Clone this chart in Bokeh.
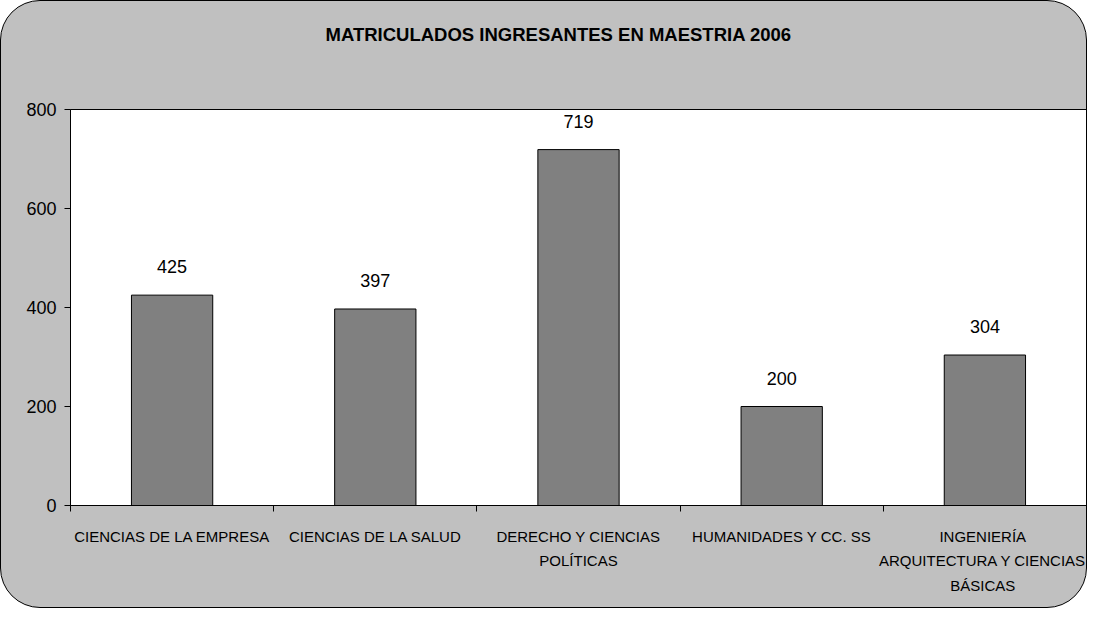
from bokeh.plotting import figure
from bokeh.models import Range1d, FixedTicker, ColumnDataSource, Title
from bokeh.core.properties import value
from bokeh.embed import file_html
from bokeh.resources import INLINE

title_text = "MATRICULADOS INGRESANTES EN MAESTRIA  2006"
categories = [
    "CIENCIAS DE LA EMPRESA",
    "CIENCIAS DE LA SALUD",
    "DERECHO Y CIENCIAS\nPOLÍTICAS",
    "HUMANIDADES Y CC. SS",
    "INGENIERÍA\nARQUITECTURA Y CIENCIAS\nBÁSICAS",
]
values = [425, 397, 719, 200, 304]
y_ticks = [0, 200, 400, 600, 800]

FONT = "Liberation Sans"

n = len(categories)
xs = list(range(n))

src = ColumnDataSource(dict(x=xs, top=values, label=[str(v) for v in values]))

p = figure(width=1087, height=608, output_backend="svg", toolbar_location=None,
           x_range=Range1d(-0.5, n - 0.5), y_range=Range1d(0, 800),
           title=title_text,
           min_border_left=69, min_border_right=2, min_border_top=108,
           min_border_bottom=104)

p.styles = {"border": "1px solid black", "border-radius": "40px",
            "background-color": "#C0C0C0"}
p.border_fill_color = None
p.background_fill_color = "white"
p.outline_line_color = "black"
p.outline_line_width = 1

p.title.text_font = FONT
p.title.text_font_size = "18.5px"
p.title.text_font_style = "bold"
p.title.text_color = "black"
p.title.align = "left"
p.title.offset = 255

# empty spacer between the frame and the title, lifting the title up
p.add_layout(Title(text=" ", text_font_size="52px", standoff=0), "above")

p.vbar(x="x", top="top", width=0.4, bottom=0, source=src,
       fill_color="#808080", line_color="black", line_width=1)

p.text(x="x", y="top", text="label", source=src, text_align="center",
       text_baseline="bottom", y_offset=-22, text_font=value(FONT),
       text_font_size="18px", text_color="black")

p.xgrid.visible = False
p.ygrid.visible = False

yax = p.yaxis[0]
yax.ticker = FixedTicker(ticks=y_ticks)
yax.major_tick_in = 0
yax.major_tick_out = 6
yax.minor_tick_line_color = None
yax.axis_line_color = "black"
yax.major_tick_line_color = "black"
yax.major_label_text_font = FONT
yax.major_label_text_font_size = "18px"
yax.major_label_text_color = "black"
yax.major_label_standoff = 8

xax = p.xaxis[0]
xax.ticker = FixedTicker(ticks=xs, minor_ticks=[i - 0.5 for i in range(n + 1)])
xax.major_label_overrides = {i: c for i, c in zip(xs, categories)}
xax.major_tick_in = 0
xax.major_tick_out = 0
xax.major_tick_line_color = None
xax.minor_tick_in = 0
xax.minor_tick_out = 6
xax.minor_tick_line_color = "black"
xax.axis_line_color = "black"
xax.major_label_text_font = FONT
xax.major_label_text_font_size = "15px"
xax.major_label_text_line_height = 1.45
xax.major_label_text_color = "black"
xax.major_label_standoff = 16

open("out.html", "w").write(file_html(p, INLINE))
